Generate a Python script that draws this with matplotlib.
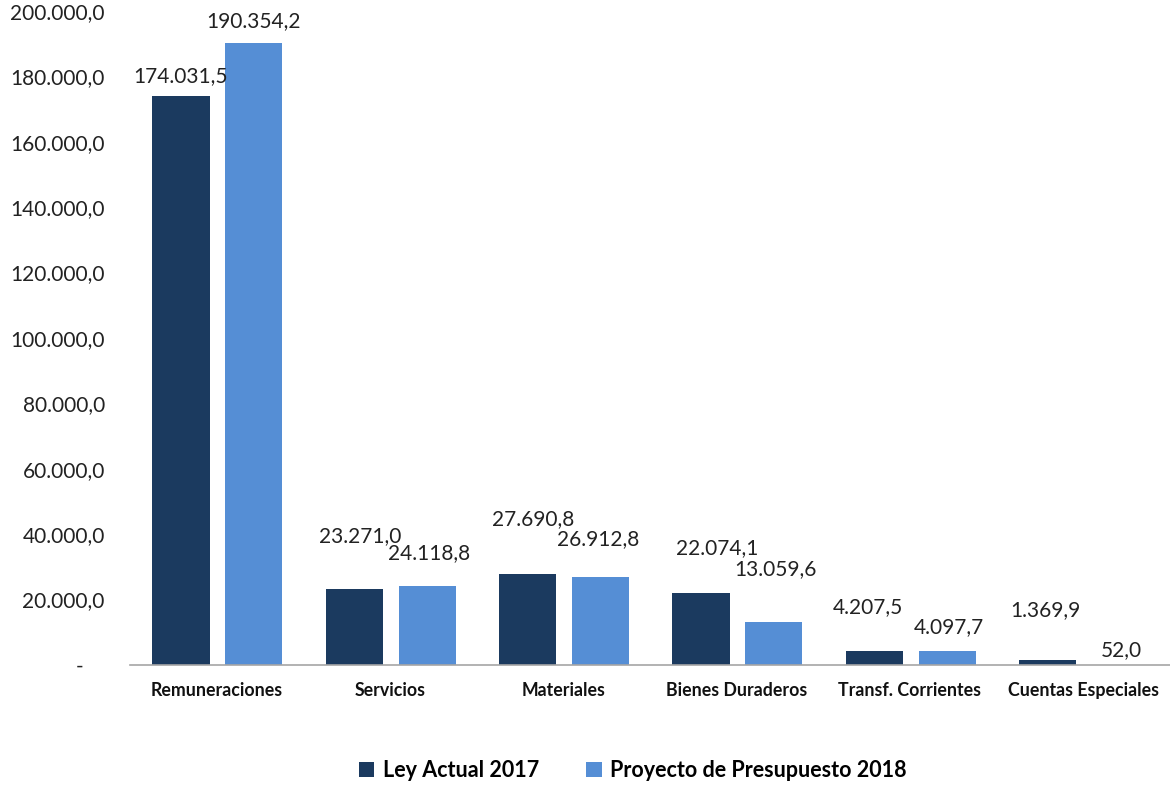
import numpy as np
import matplotlib
matplotlib.use('Agg')
import matplotlib.pyplot as plt

plt.rcParams['font.family'] = ['Lato', 'DejaVu Sans']

# datos
categorias = ['Remuneraciones', 'Servicios', 'Materiales', 'Bienes Duraderos',
              'Transf. Corrientes', 'Cuentas Especiales']
ley_2017 = [174031.5, 23271.0, 27690.8, 22074.1, 4207.5, 1369.9]
proy_2018 = [190354.2, 24118.8, 26912.8, 13059.6, 4097.7, 52.0]
series = ['Ley Actual 2017', 'Proyecto de Presupuesto 2018']
yticks = np.arange(0, 200001, 20000)

# ajustes de posicion de etiquetas (px) como en el original
off_2017 = [(0, 20), (6, 53), (5, 55), (16, 45), (-7, 44), (-2, 50)]
off_2018 = [(0, 21), (2, 33), (-2, 38), (2, 53), (2, 24), (1, 15)]

c_dark = '#1B3A5F'
c_light = '#558ED5'


def fmt(v):
    s = f'{v:,.1f}'
    return s.replace(',', 'X').replace('.', ',').replace('X', '.')


fig = plt.figure(figsize=(11.7, 7.85), dpi=100)
ax = fig.add_axes([0.111, 0.153, 0.889, 0.833])

x = np.arange(len(categorias))
w = 0.33
b1 = ax.bar(x - 0.205, ley_2017, w, color=c_dark, label=series[0])
b2 = ax.bar(x + 0.215, proy_2018, w, color=c_light, label=series[1])

for bars, vals, offs in [(b1, ley_2017, off_2017), (b2, proy_2018, off_2018)]:
    for r, v, (dx, dy) in zip(bars, vals, offs):
        ax.annotate(fmt(v), (r.get_x() + r.get_width() / 2, v),
                    xytext=(dx * 0.72, dy * 0.72), textcoords='offset points',
                    ha='center', va='center', fontsize=15, color='#222222')

ax.set_xlim(-0.5, len(categorias) - 0.5)
ax.set_ylim(0, 200000)
ax.set_yticks(yticks)
ax.set_yticklabels(['-    ' if t == 0 else fmt(t) for t in yticks], fontsize=15, color='#222222')
ax.set_xticks(x)
ax.set_xticklabels(categorias, fontsize=12.8, fontweight='bold', color='#111111')
ax.tick_params(axis='y', length=0, pad=18)
ax.tick_params(axis='x', length=0, pad=12)

for s in ['top', 'right', 'left']:
    ax.spines[s].set_visible(False)
ax.spines['bottom'].set_color('#A6A6A6')
ax.spines['bottom'].set_linewidth(1.2)

fig.legend(loc='center', bbox_to_anchor=(0.541, 0.018), ncol=2, frameon=False,
           prop={'size': 15.5, 'weight': 'bold'}, handlelength=0.7, handleheight=0.7,
           handletextpad=0.4, columnspacing=2.2)

fig.savefig('out.png', dpi=100)
